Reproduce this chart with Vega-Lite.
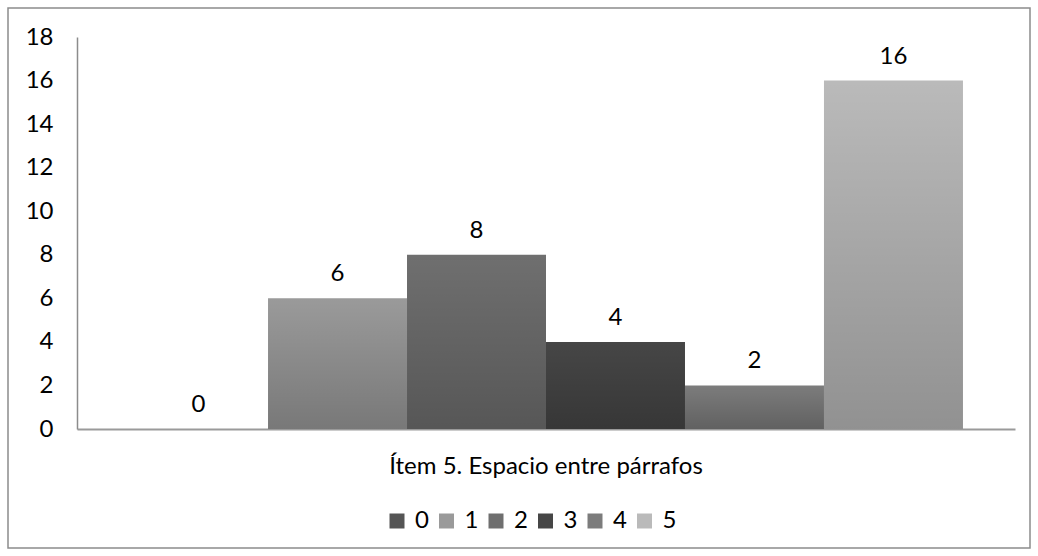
{
  "$schema": "https://vega.github.io/schema/vega-lite/v6.json",
  "width": 1022,
  "height": 540,
  "padding": 8,
  "autosize": {"type": "none"},
  "background": "white",
  "config": {
    "font": "Lato",
    "view": {"stroke": "#8c8c8c", "strokeWidth": 1.5}
  },
  "data": {
    "values": [
      {"item": "Ítem 5. Espacio entre párrafos", "cat": "0", "value": 0},
      {"item": "Ítem 5. Espacio entre párrafos", "cat": "1", "value": 6},
      {"item": "Ítem 5. Espacio entre párrafos", "cat": "2", "value": 8},
      {"item": "Ítem 5. Espacio entre párrafos", "cat": "3", "value": 4},
      {"item": "Ítem 5. Espacio entre párrafos", "cat": "4", "value": 2},
      {"item": "Ítem 5. Espacio entre párrafos", "cat": "5", "value": 16}
    ]
  },
  "encoding": {
    "x": {
      "field": "item",
      "type": "nominal",
      "scale": {"range": [69, 1007], "paddingInner": 0, "paddingOuter": 0.0624},
      "axis": {
        "title": null,
        "orient": "bottom",
        "offset": -119,
        "ticks": false,
        "domainColor": "#9a9a9a",
        "domainWidth": 2,
        "labelFontSize": 24,
        "labelPadding": 25,
        "labelLimit": 0,
        "labelAngle": 0,
        "labelColor": "#000000"
      }
    },
    "xOffset": {
      "field": "cat",
      "type": "nominal",
      "scale": {"paddingInner": 0, "paddingOuter": 0}
    },
    "y": {
      "field": "value",
      "type": "quantitative",
      "scale": {"domain": [0, 18], "range": [421, 29], "nice": false},
      "axis": {
        "title": null,
        "values": [0, 2, 4, 6, 8, 10, 12, 14, 16, 18],
        "offset": -69,
        "ticks": false,
        "grid": false,
        "domainColor": "#8c8c8c",
        "domainWidth": 1.5,
        "labelFontSize": 24,
        "labelPadding": 24,
        "labelColor": "#000000"
      }
    }
  },
  "layer": [
    {
      "mark": {"type": "bar"},
      "encoding": {
        "fill": {
          "field": "cat",
          "type": "nominal",
          "scale": {
            "range": ["#555555", "#9a9a9a", "#6f6f6f", "#464646", "#7c7c7c", "#bababa"]
          },
          "legend": {
            "title": null,
            "orient": "none",
            "direction": "horizontal",
            "legendX": 377,
            "legendY": 501,
            "symbolType": "square",
            "symbolSize": 225,
            "symbolStrokeWidth": 0,
            "symbolOpacity": 1,
            "labelFontSize": 24,
            "labelColor": "#000000",
            "labelOffset": 6,
            "columnPadding": 5.5
          }
        }
      }
    },
    {
      "mark": {
        "type": "bar",
        "color": {
          "gradient": "linear",
          "x1": 0, "y1": 0, "x2": 0, "y2": 1,
          "stops": [
            {"offset": 0, "color": "rgba(0,0,0,0)"},
            {"offset": 1, "color": "rgba(0,0,0,0.22)"}
          ]
        }
      },
      "encoding": {}
    },
    {
      "mark": {"type": "text", "baseline": "alphabetic", "dy": -17, "fontSize": 24, "color": "#000000"},
      "encoding": {"text": {"field": "value", "type": "quantitative"}}
    }
  ]
}
